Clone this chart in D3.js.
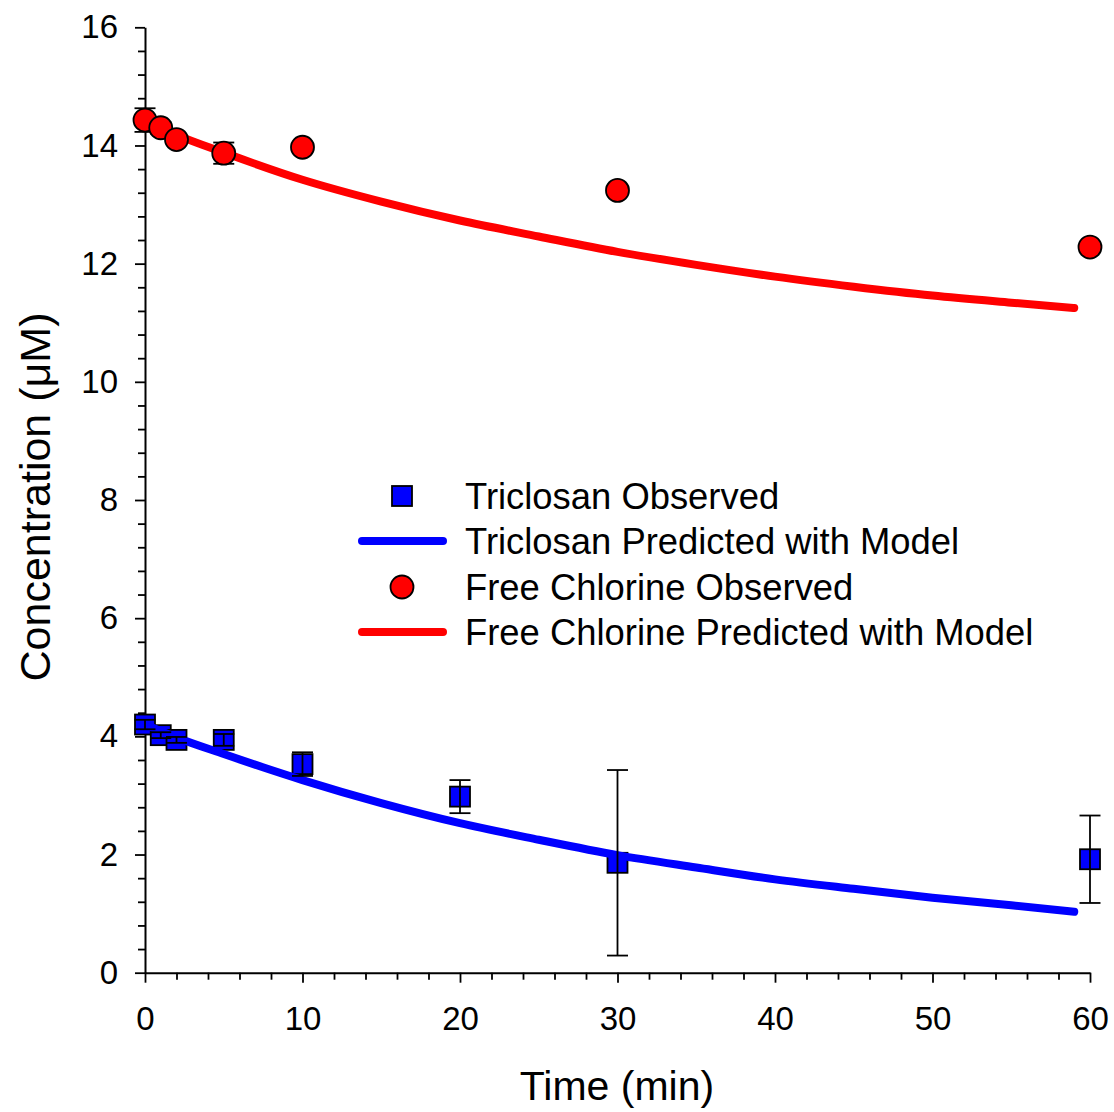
<!DOCTYPE html>
<html>
<head>
<meta charset="utf-8">
<script src="https://cdn.jsdelivr.net/npm/d3@7"></script>
<style>
  html, body { margin: 0; padding: 0; background: #fff; }
  svg { display: block; font-family: "Liberation Sans", Arial, sans-serif; }
</style>
</head>
<body>
<svg id="chart" width="1114" height="1112"></svg>
<script>
// ---- data ----
const obsTimes = [0, 1, 2, 5, 10, 20, 30, 60];
const triclosanObs = [4.20, 4.02, 3.94, 3.94, 3.53, 2.98, 1.86, 1.92];
const triclosanErr = [0.08, 0.05, 0.05, 0.10, 0.20, 0.28, 1.57, 0.74];

const chlorineTimes = [0, 1, 2, 5, 10, 30, 60];
const chlorineObs = [14.43, 14.30, 14.10, 13.87, 13.97, 13.24, 12.28];
const chlorineErr = [0.20, 0.10, 0.05, 0.18, 0.0, 0.0, 0.0];

const modelTimes = [0, 2, 5, 10, 15, 20, 25, 30, 35, 40, 45, 50, 55, 59];
const triclosanModel = [4.20, 3.98, 3.70, 3.26, 2.87, 2.53, 2.25, 1.99, 1.78, 1.58, 1.42, 1.27, 1.14, 1.03];
const chlorineModel = [14.42, 14.18, 13.88, 13.42, 13.05, 12.73, 12.46, 12.20, 11.98, 11.78, 11.61, 11.46, 11.34, 11.25];

const xTicks = [0, 10, 20, 30, 40, 50, 60];
const yTicks = [0, 2, 4, 6, 8, 10, 12, 14, 16];

const legendLabels = ["Triclosan Observed", "Triclosan Predicted with Model", "Free Chlorine Observed", "Free Chlorine Predicted with Model"];

// ---- layout ----
const svg = d3.select("#chart");
const x = d3.scaleLinear().domain([0, 60]).range([145, 1090]);
const y = d3.scaleLinear().domain([0, 16]).range([972.7, 27.3]);

const BLUE = "#0000ff", RED = "#ff0000";
const FONT = "'Liberation Sans', Arial, sans-serif";

// axes
const xMinor = d3.range(0, 60.001, 2).filter(v => v % 10 !== 0);
const yMinor = d3.range(0, 16.001, 0.4).filter(v => Math.abs(v / 2 - Math.round(v / 2)) > 1e-6);

const gx = svg.append("g").attr("transform", `translate(0,${y(0)})`);
gx.call(d3.axisBottom(x).tickValues(xMinor).tickSize(7).tickFormat(""));
gx.call(g => g.selectAll(".domain").remove());
const gx2 = svg.append("g").attr("transform", `translate(0,${y(0)})`)
  .call(d3.axisBottom(x).tickValues(xTicks).tickSize(10).tickSizeOuter(0).tickPadding(24).tickFormat(d3.format("d")));

const gy = svg.append("g").attr("transform", `translate(${x(0)},0)`);
gy.call(d3.axisLeft(y).tickValues(yMinor).tickSize(7).tickFormat(""));
gy.call(g => g.selectAll(".domain").remove());
const gy2 = svg.append("g").attr("transform", `translate(${x(0)},0)`)
  .call(d3.axisLeft(y).tickValues(yTicks).tickSize(10).tickSizeOuter(0).tickPadding(17).tickFormat(d3.format("d")));

svg.selectAll(".tick line").attr("stroke", "#000").attr("stroke-width", 1.8);
svg.selectAll(".domain").attr("stroke", "#000").attr("stroke-width", 2);
svg.selectAll(".tick text").attr("font-size", 33).attr("fill", "#000").attr("font-family", FONT);

// axis titles
svg.append("text").attr("x", 617).attr("y", 1100).attr("text-anchor", "middle")
  .attr("font-size", 41).attr("font-family", FONT).text("Time (min)");
svg.append("text").attr("transform", "translate(50,497) rotate(-90)").attr("text-anchor", "middle")
  .attr("font-size", 43).attr("font-family", FONT).text("Concentration (μM)");

const line = d3.line().curve(d3.curveMonotoneX);

function errorBars(times, vals, errs) {
  const g = svg.append("g").attr("stroke", "#000").attr("stroke-width", 1.8);
  times.forEach((t, i) => {
    if (!errs[i]) return;
    const cx = x(t), y1 = y(vals[i] + errs[i]), y2 = y(vals[i] - errs[i]);
    g.append("line").attr("x1", cx).attr("x2", cx).attr("y1", y1).attr("y2", y2);
    g.append("line").attr("x1", cx - 10.5).attr("x2", cx + 10.5).attr("y1", y1).attr("y2", y1);
    g.append("line").attr("x1", cx - 10.5).attr("x2", cx + 10.5).attr("y1", y2).attr("y2", y2);
  });
}

// triclosan
svg.append("g").selectAll("rect").data(obsTimes).join("rect")
  .attr("x", (d) => x(d) - 10).attr("y", (d, i) => y(triclosanObs[i]) - 10)
  .attr("width", 20).attr("height", 20)
  .attr("fill", BLUE).attr("stroke", "#000").attr("stroke-width", 1.8);
svg.append("path").attr("d", line(modelTimes.map((t, i) => [x(t), y(triclosanModel[i])])))
  .attr("fill", "none").attr("stroke", BLUE).attr("stroke-width", 8).attr("stroke-linecap", "round");
errorBars(obsTimes, triclosanObs, triclosanErr);

// chlorine
svg.append("path").attr("d", line(modelTimes.map((t, i) => [x(t), y(chlorineModel[i])])))
  .attr("fill", "none").attr("stroke", RED).attr("stroke-width", 8).attr("stroke-linecap", "round");
errorBars(chlorineTimes, chlorineObs, chlorineErr);
svg.append("g").selectAll("circle").data(chlorineTimes).join("circle")
  .attr("cx", d => x(d)).attr("cy", (d, i) => y(chlorineObs[i])).attr("r", 11.5)
  .attr("fill", RED).attr("stroke", "#000").attr("stroke-width", 1.8);

// legend
const lg = svg.append("g");
const rowY = [496, 541, 587, 632];
const symX = 402;
lg.append("rect").attr("x", symX - 10).attr("y", rowY[0] - 10).attr("width", 20).attr("height", 20)
  .attr("fill", BLUE).attr("stroke", "#000").attr("stroke-width", 1.8);
lg.append("line").attr("x1", 362).attr("x2", 443).attr("y1", rowY[1]).attr("y2", rowY[1])
  .attr("stroke", BLUE).attr("stroke-width", 8).attr("stroke-linecap", "round");
lg.append("circle").attr("cx", symX).attr("cy", rowY[2]).attr("r", 11.5)
  .attr("fill", RED).attr("stroke", "#000").attr("stroke-width", 1.8);
lg.append("line").attr("x1", 362).attr("x2", 443).attr("y1", rowY[3]).attr("y2", rowY[3])
  .attr("stroke", RED).attr("stroke-width", 8).attr("stroke-linecap", "round");
legendLabels.forEach((t, i) => {
  lg.append("text").attr("x", 465).attr("y", rowY[i]).attr("dy", "0.36em")
    .attr("font-size", 36.4).attr("font-family", FONT).attr("fill", "#000").text(t);
});
</script>
</body>
</html>
